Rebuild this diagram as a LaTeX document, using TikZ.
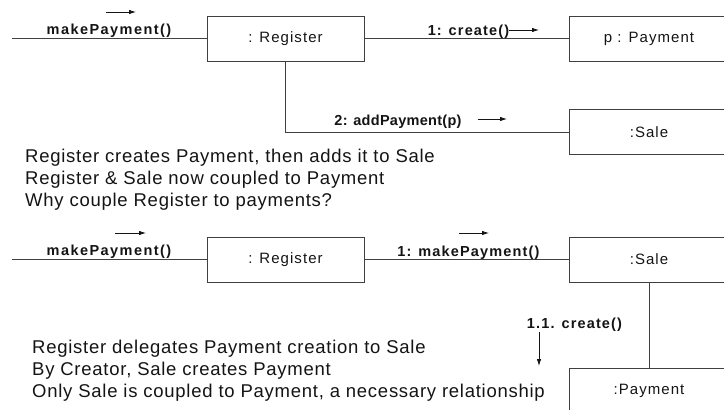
\documentclass[tikz,border=0pt]{standalone}
\usepackage{fontspec}
\setmainfont{Liberation Sans}
\newfontfamily\boxfont[LetterSpace=7]{Liberation Sans}
\newfontfamily\msgfont[LetterSpace=8]{Liberation Sans}
\newfontfamily\notefont[LetterSpace=4]{Liberation Sans}
\usetikzlibrary{arrows.meta}
\definecolor{edgegray}{HTML}{404040}
\definecolor{inkblack}{HTML}{141414}
\tikzset{
  obj/.style={draw=edgegray, line width=0.8pt, minimum width=157pt, minimum height=45pt,
    inner sep=0pt, text=inkblack, font=\boxfont\fontsize{15}{17}\selectfont},
  robj/.style={obj, minimum width=160pt},
  msgspace/.style={font=\msgfont\bfseries\fontsize{14.5}{16}\selectfont\addfontfeature{LetterSpace=#1}},
  msg/.style={inner sep=0pt, anchor=base, text=inkblack, msgspace=8},
  note/.style={inner sep=0pt, anchor=base west, text=inkblack,
    font=\notefont\fontsize{18.5}{22}\selectfont},
  link/.style={draw=edgegray, line width=0.8pt},
  flow/.style={draw=inkblack, line width=0.8pt, -{Latex[length=7pt,width=4.5pt]}}
}
\begin{document}
\begin{tikzpicture}[x=1pt,y=-1pt]
\useasboundingbox (0,0) rectangle (724,410);
\clip (0,0) rectangle (724,410);

% --- first design: Register creates the Payment ---
\node[obj]  (reg1)  at (285.5,38.5) {: Register};
\node[robj] (pay1)  at (649,38.5)   {p : Payment};
\node[robj] (sale1) at (649,132)    {:Sale};
\coordinate (in1) at (12,38.5);
\draw[link] (in1) -- (reg1.west);
\draw[link] (reg1.east) -- (pay1.west);
\draw[link] (reg1.south) |- (sale1.west);

\node[msg, msgspace=10] (m1) at (109,34) {makePayment()};
\coordinate (m1a) at (106,12); \coordinate (m1b) at (136,12);
\draw[flow] (m1a) -- (m1b);
\node[msg] (c1) at (468.5,35) {1: create()};
\coordinate (c1a) at (509,30); \coordinate (c1b) at (539,30);
\draw[flow] (c1a) -- (c1b);
\node[msg, msgspace=2] (a2) at (398,125) {2: addPayment(p)};
\coordinate (a2a) at (478,119); \coordinate (a2b) at (507,119);
\draw[flow] (a2a) -- (a2b);

\node[note] (t1) at (25,162) {Register creates Payment, then adds it to Sale};
\node[note] (t2) at (25,184) {Register \& Sale now coupled to Payment};
\node[note] (t3) at (25,206) {Why couple Register to payments?};

% --- second design: Sale creates the Payment ---
\node[obj]  (reg2)  at (285.5,259.5) {: Register};
\node[robj] (sale2) at (649,259.5)   {:Sale};
\node[robj] (pay2)  at (649,390.5)   {:Payment};
\coordinate (in2) at (12,259.5);
\draw[link] (in2) -- (reg2.west);
\draw[link] (reg2.east) -- (sale2.west);
\draw[link] (sale2.south) -- (pay2.north);

\node[msg, msgspace=10] (m2) at (109,255) {makePayment()};
\coordinate (m2a) at (115,233); \coordinate (m2b) at (146,233);
\draw[flow] (m2a) -- (m2b);
\node[msg] (m3) at (468.5,256) {1: makePayment()};
\coordinate (m3a) at (459,233); \coordinate (m3b) at (489,233);
\draw[flow] (m3a) -- (m3b);
\node[msg] (c2) at (574.5,328) {1.1. create()};
\coordinate (c2a) at (539,332); \coordinate (c2b) at (539,366);
\draw[flow] (c2a) -- (c2b);

\node[note] (t4) at (32,353) {Register delegates Payment creation to Sale};
\node[note] (t5) at (32,375) {By Creator, Sale creates Payment};
\node[note] (t6) at (32,397) {Only Sale is coupled to Payment, a necessary relationship};
\end{tikzpicture}
\end{document}
